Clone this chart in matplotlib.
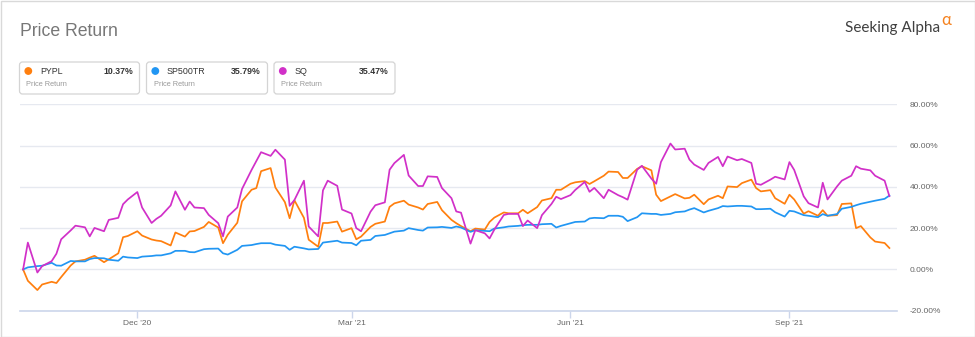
import pandas as pd
import matplotlib
matplotlib.use('Agg')
import matplotlib.pyplot as plt
import matplotlib.dates as mdates
from matplotlib.ticker import FuncFormatter
from matplotlib.patches import FancyBboxPatch, Rectangle, Circle

plt.rcParams['font.family'] = ['Liberation Sans', 'DejaVu Sans']

# every other business day, 14 Oct 2020 -> 13 Oct 2021
dates = pd.bdate_range('2020-10-14', '2021-10-13')[::2]

tickers = ['PYPL', 'SP500TR', 'SQ']
colors = ['#ff7f0e', '#2196f3', '#d130c8']

# price return in %, relative to the first day
pypl = [0.0, -5.5, -10.0, -7.3, -6.0, -6.6, -3.7, 1.9, 3.9, 4.7,
        5.7, 6.6, 3.5, 4.9, 7.8, 15.6, 16.2, 18.5, 16.4, 14.5,
        14.0, 13.7, 11.6, 17.9, 15.9, 18.4, 18.6, 20.6, 23.0, 20.3,
        12.7, 16.8, 22.6, 33.0, 38.6, 39.4, 47.6, 49.1, 39.7, 32.6,
        24.8, 33.5, 25.0, 14.4, 11.0, 22.5, 22.5, 23.2, 18.3, 20.0,
        14.6, 15.9, 20.6, 22.1, 23.2, 30.3, 32.0, 33.3, 31.4, 30.0,
        29.0, 31.7, 32.7, 28.7, 24.0, 22.4, 21.0, 18.5, 19.8, 19.3,
        23.0, 25.1, 27.6, 27.2, 27.2, 28.9, 27.2, 30.2, 33.4, 34.5,
        38.6, 38.6, 41.5, 42.2, 42.8, 41.4, 42.7, 45.4, 47.4, 47.2,
        44.3, 44.3, 48.7, 50.0, 48.0, 36.2, 33.1, 35.4, 36.5, 34.4,
        34.7, 36.2, 31.6, 33.9, 35.7, 34.5, 40.2, 39.9, 41.8, 43.5,
        39.4, 37.8, 38.4, 34.5, 31.8, 36.2, 33.9, 27.0, 28.2, 26.0,
        28.7, 26.0, 26.3, 31.7, 32.0, 20.0, 21.0, 15.5, 13.5, 12.8,
        10.37]

sp500tr = [0.0, 1.0, 1.6, 1.8, 3.2, 1.9, 1.8, 4.1, 3.9, 3.9,
           5.0, 5.5, 5.4, 4.7, 4.2, 6.2, 5.8, 5.5, 6.2, 6.5,
           6.8, 6.8, 7.8, 9.0, 9.0, 8.4, 8.3, 9.8, 10.0, 10.1,
           7.8, 7.2, 9.5, 11.4, 11.8, 12.3, 12.7, 12.7, 12.0, 11.4,
           9.5, 11.0, 10.2, 9.7, 9.9, 13.0, 13.3, 13.9, 13.0, 12.8,
           11.7, 13.9, 14.3, 16.2, 16.7, 17.5, 18.3, 18.8, 20.0, 19.1,
           18.8, 20.3, 20.4, 20.6, 20.1, 20.8, 20.3, 18.2, 19.0, 18.7,
           18.5, 19.8, 20.4, 20.8, 21.1, 21.4, 21.6, 21.6, 21.9, 22.1,
           20.3, 21.1, 22.4, 23.0, 23.2, 24.7, 25.0, 24.8, 26.0, 26.0,
           25.5, 23.4, 25.3, 27.2, 26.9, 26.9, 26.4, 26.9, 27.7, 28.1,
           29.0, 29.7, 27.6, 28.4, 29.7, 30.7, 30.5, 30.8, 30.8, 30.5,
           29.2, 29.2, 29.4, 27.7, 25.6, 28.4, 28.1, 26.3, 26.0, 25.3,
           26.8, 26.0, 26.8, 29.4, 30.3, 31.1, 31.8, 32.8, 33.3, 34.2,
           35.79]

sq = [0.0, 13.0, -1.5, 1.6, 4.0, 7.6, 14.6, 18.9, 21.2, 20.4,
      16.0, 20.1, 18.5, 24.0, 25.0, 31.6, 33.9, 37.5, 30.0, 22.5,
      24.5, 26.0, 31.0, 37.8, 28.9, 32.9, 30.0, 29.7, 26.4, 22.4,
      16.0, 25.6, 30.0, 39.0, 48.2, 52.5, 56.8, 55.0, 58.0, 53.2,
      30.8, 33.6, 43.0, 20.8, 16.0, 38.3, 43.0, 40.5, 29.0, 27.1,
      20.0, 18.5, 28.0, 31.1, 32.5, 48.3, 51.5, 55.5, 45.5, 40.4,
      40.4, 45.1, 44.8, 39.4, 34.5, 28.1, 27.5, 12.5, 19.0, 17.5,
      15.0, 19.3, 26.4, 26.9, 26.9, 21.0, 23.7, 20.0, 26.3, 31.7,
      35.2, 34.1, 36.0, 38.5, 42.4, 37.6, 39.5, 34.5, 38.6, 36.0,
      35.0, 33.8, 48.3, 50.2, 44.0, 41.5, 52.0, 61.0, 58.1, 58.5,
      53.2, 50.8, 48.2, 51.6, 54.5, 50.0, 54.7, 52.9, 53.5, 51.6,
      41.5, 41.0, 43.5, 44.9, 43.6, 52.0, 48.2, 35.4, 32.1, 30.0,
      42.0, 33.9, 40.2, 43.0, 45.4, 50.0, 48.8, 48.0, 45.4, 43.0,
      35.47]

series = [pypl, sp500tr, sq]

W, H = 975, 337
fig = plt.figure(figsize=(W / 100, H / 100), dpi=100)

# full-figure layer in pixel units for the frame, title, legend cards and logo
deco = fig.add_axes([0, 0, 1, 1])
deco.set_xlim(0, W)
deco.set_ylim(H, 0)
deco.axis('off')

deco.add_patch(Rectangle((0.5, 0.5), W - 1, H - 1, fill=False,
                         edgecolor='#d9d9d9', lw=1))
deco.text(20, 36, 'Price Return', fontsize=12.7, color='#777777', va='baseline')

deco.text(940, 32, 'Seeking Alpha', fontsize=11, color='#404040',
          ha='right', va='baseline', family=['Lato', 'DejaVu Sans'])
deco.text(941.5, 25, '\u03b1', fontsize=12, color='#f5821f',
          ha='left', va='baseline', family=['Lato', 'DejaVu Sans'])

cards = [(19.5, 139.5), (146.5, 267.5), (274, 395)]
for (x0, x1), name, col, vals in zip(cards, tickers, colors, series):
    deco.add_patch(FancyBboxPatch((x0, 62), x1 - x0, 32,
                                  boxstyle='round,pad=0,rounding_size=3',
                                  facecolor='white', edgecolor='#d4d4d4', lw=0.9))
    deco.add_patch(Circle((x0 + 8.8, 71), 3.2, color=col))
    deco.text(x0 + 20.5, 71, name, fontsize=6.4, color='#333333', va='center')
    deco.text(x1 - 6.5, 71, f'{vals[-1]:.2f}%', fontsize=6.3, color='#333333',
              va='center', ha='right', fontweight='bold')
    deco.text(x0 + 7, 84.5, 'Price Return', fontsize=5.3, color='#999999',
              va='center')

# main chart area
ax = fig.add_axes([20 / W, (H - 310.7) / H, 877 / W, 206.4 / H])
ax.patch.set_alpha(0)
for vals, col in zip(series, colors):
    ax.plot(dates, vals, color=col, lw=1.25, solid_joinstyle='round', zorder=3)

ax.set_ylim(-20, 80)
ax.set_yticks(range(-20, 81, 20))
ax.yaxis.tick_right()
ax.yaxis.set_major_formatter(FuncFormatter(lambda v, _: f'{v:.2f}%'))
ax.tick_params(axis='y', length=0, pad=9, labelsize=6, labelcolor='#666666')
ax.grid(axis='y', color='#e6e9f0', lw=1)

ax.set_xlim(dates[0] - pd.Timedelta(days=1.3), dates[-1] + pd.Timedelta(days=3.2))
ax.xaxis.set_major_locator(mdates.MonthLocator(bymonth=[3, 6, 9, 12]))
ax.xaxis.set_major_formatter(mdates.DateFormatter("%b '%y"))
ax.tick_params(axis='x', length=5, width=1, color='#ccd6eb', pad=2,
               labelsize=6, labelcolor='#666666')

for side in ['top', 'left', 'right']:
    ax.spines[side].set_visible(False)
ax.spines['bottom'].set_color('#ccd6eb')
ax.spines['bottom'].set_linewidth(1.2)

fig.savefig('out.png', dpi=100)
